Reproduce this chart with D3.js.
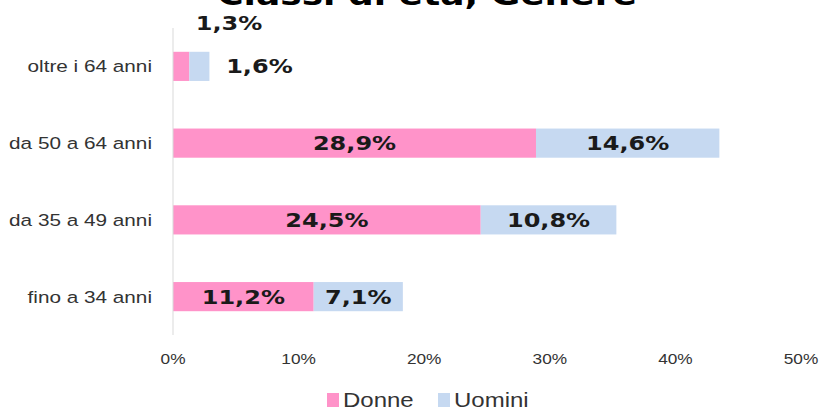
<!DOCTYPE html>
<html>
<head>
<meta charset="utf-8">
<script src="https://cdn.jsdelivr.net/npm/d3@7"></script>
<style>
  body { margin: 0; background: #fff; }
  svg { display: block; }
</style>
</head>
<body>
<div id="chart"></div>
<script>
// chart size
var width = 824;
var height = 412;

// data
var categories = ["oltre i 64 anni", "da 50 a 64 anni", "da 35 a 49 anni", "fino a 34 anni"];
var donne = [1.3, 28.9, 24.5, 11.2];
var uomini = [1.6, 14.6, 10.8, 7.1];
var seriesNames = ["Donne", "Uomini"];
var tickValues = [0, 10, 20, 30, 40, 50];

var colors = {Donne: "#ff93c9", Uomini: "#c6d9f1"};

var svg = d3.select("#chart")
  .append("svg")
  .attr("width", width)
  .attr("height", height);

var x = d3.scaleLinear().domain([0, 50]).range([173, 801]);
var y = d3.scaleBand().domain(categories).range([28, 335]).paddingInner(0.62).paddingOuter(0.31);

// stacked rows
var rows = categories.map(function(c, i) {
  return {cat: c, Donne: donne[i], Uomini: uomini[i]};
});
var stack = d3.stack().keys(seriesNames)(rows);

// title (cut off at the top in the source)
svg.append("text")
  .text("Classi di età, Genere")
  .attr("text-anchor", "middle")
  .attr("font-family", "DejaVu Sans")
  .attr("font-weight", "bold")
  .attr("font-size", 30)
  .attr("fill", "#000")
  .attr("transform", "translate(427,5) scale(1.2,1)");

// bars
svg.selectAll("g.series")
  .data(stack)
  .enter()
  .append("g")
  .attr("class", "series")
  .attr("fill", function(d) { return colors[d.key]; })
  .selectAll("rect")
  .data(function(d) { return d; })
  .enter()
  .append("rect")
  .attr("x", function(d) { return x(d[0]); })
  .attr("y", function(d) { return y(d.data.cat); })
  .attr("width", function(d) { return x(d[1]) - x(d[0]); })
  .attr("height", y.bandwidth());

// vertical axis line
svg.append("line")
  .attr("x1", x(0)).attr("x2", x(0))
  .attr("y1", 28).attr("y2", 335)
  .attr("stroke", "#d9d9d9")
  .attr("stroke-width", 1);

// category labels
svg.selectAll("text.cat")
  .data(categories)
  .enter()
  .append("text")
  .attr("class", "cat")
  .text(function(d) { return d; })
  .attr("text-anchor", "end")
  .attr("font-family", "Liberation Sans")
  .attr("font-size", 17)
  .attr("fill", "#333")
  .attr("transform", function(d) {
    return "translate(152," + (y(d) + y.bandwidth() / 2 + 6) + ") scale(1.22,1)";
  });

// value labels
function valuePos(d, key) {
  var x0 = d[0], x1 = d[1];
  var cx = (x(x0) + x(x1)) / 2;
  var cy = y(d.data.cat) + y.bandwidth() / 2 + 7;
  // tiny segments: labels go outside the bar
  if (x(x1) - x(x0) < 40) {
    if (key === "Donne") { cx = 229; cy = y(d.data.cat) - 22; }
    else { cx = x(x1) + 50; }
  }
  return [cx, cy];
}

stack.forEach(function(s) {
  svg.selectAll("text.val-" + s.key)
    .data(s)
    .enter()
    .append("text")
    .attr("class", "val-" + s.key)
    .text(function(d) { return d3.format(".1f")(d[1] - d[0]).replace(".", ",") + "%"; })
    .attr("text-anchor", "middle")
    .attr("font-family", "DejaVu Sans")
    .attr("font-weight", "bold")
    .attr("font-size", 20)
    .attr("fill", "#1a1a1a")
    .attr("transform", function(d) {
      var p = valuePos(d, s.key);
      return "translate(" + p[0] + "," + p[1] + ") scale(1.2,1)";
    });
});

// x axis tick labels
svg.selectAll("text.tick")
  .data(tickValues)
  .enter()
  .append("text")
  .attr("class", "tick")
  .text(function(d) { return d + "%"; })
  .attr("text-anchor", "middle")
  .attr("font-family", "Liberation Sans")
  .attr("font-size", 15)
  .attr("fill", "#333")
  .attr("transform", function(d) { return "translate(" + x(d) + ",364) scale(1.15,1)"; });

// legend
var legend = svg.selectAll("g.legend")
  .data(seriesNames)
  .enter()
  .append("g")
  .attr("class", "legend")
  .attr("transform", function(d, i) { return "translate(" + (327 + i * 111) + ",393)"; });

legend.append("rect")
  .attr("x", 0).attr("y", 0)
  .attr("width", 12).attr("height", 14)
  .attr("fill", function(d) { return colors[d]; });

legend.append("text")
  .text(function(d) { return d; })
  .attr("font-family", "Liberation Sans")
  .attr("font-size", 20)
  .attr("fill", "#333")
  .attr("transform", "translate(16,14) scale(1.2,1)");
</script>
</body>
</html>
